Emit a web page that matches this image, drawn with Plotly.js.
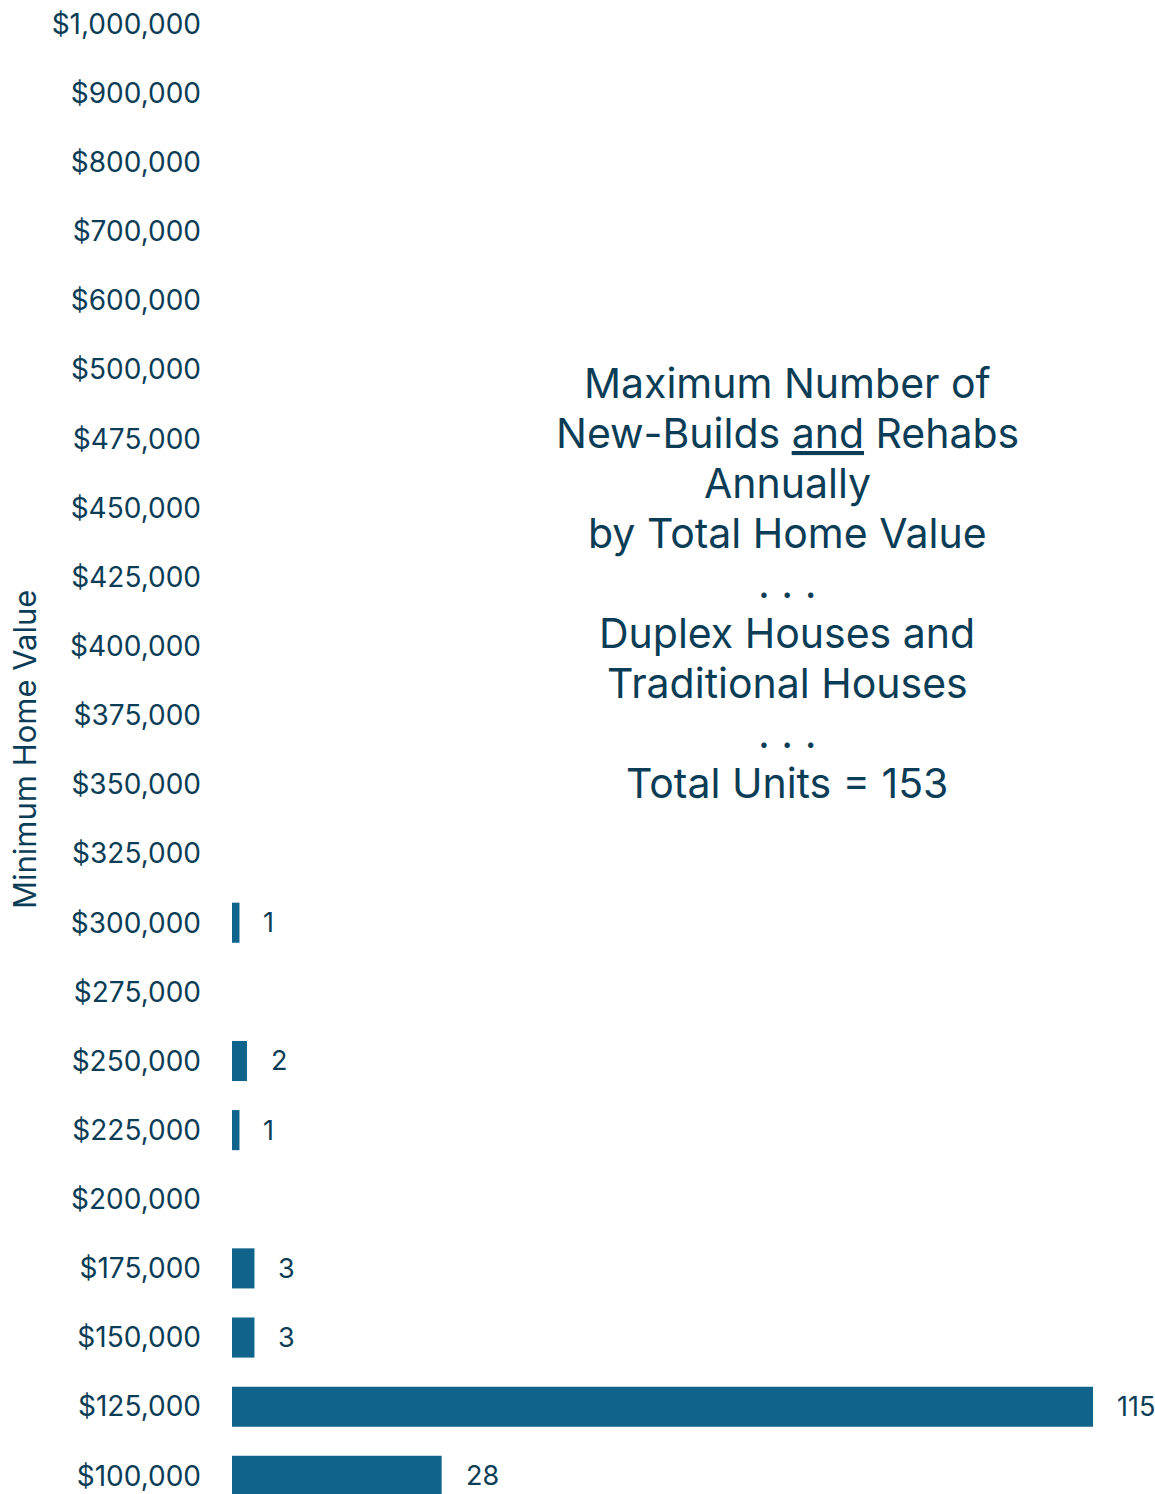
<!DOCTYPE html>
<html>
<head>
<meta charset="utf-8">
<script src="https://cdn.plot.ly/plotly-3.0.1.min.js"></script>
<style>html,body{margin:0;padding:0;background:#fff;}#chart{width:1155px;height:1494px;}</style>
</head>
<body>
<div id="chart"></div>
<script>
const categories = ["$100,000","$125,000","$150,000","$175,000","$200,000","$225,000","$250,000","$275,000","$300,000","$325,000","$350,000","$375,000","$400,000","$425,000","$450,000","$475,000","$500,000","$600,000","$700,000","$800,000","$900,000","$1,000,000"];
const units = [28,115,3,3,0,1,2,0,1,0,0,0,0,0,0,0,0,0,0,0,0,0];
const titleLines = ["Maximum Number of","New-Builds <u>and</u> Rehabs","Annually","by Total Home Value",". . .","Duplex Houses and","Traditional Houses",". . .","Total Units = 153"];
const yTitle = "Minimum Home Value";

const FONT = "Inter, 'Open Sans', sans-serif";
const TXT = "#0b3d56";
const BAR = "#10638a";
const W = 1155, H = 1494, L = 232;
const px = (x) => (x - L) / (W - L);
const py = (y) => 1 - y / H;

const trace = {
  type: "bar",
  orientation: "h",
  y: categories,
  x: units,
  marker: {color: BAR},
  hoverinfo: "skip"
};

const anns = [];
categories.forEach((c, i) => {
  if (units[i] > 0) {
    anns.push({
      x: units[i], y: c, xref: "x", yref: "y",
      text: String(units[i]), showarrow: false,
      xanchor: "left", yanchor: "middle", xshift: 22,
      font: {family: FONT, size: 27, color: TXT}
    });
  }
});

titleLines.forEach((t, i) => {
  anns.push({
    x: px(787), y: py(383 + 50 * i), xref: "paper", yref: "paper",
    text: t, showarrow: false,
    xanchor: "center", yanchor: "middle", align: "center",
    font: {family: FONT, size: 41, color: TXT}
  });
});

anns.push({
  x: px(24), y: py(750), xref: "paper", yref: "paper",
  text: yTitle, showarrow: false, textangle: -90,
  xanchor: "center", yanchor: "middle",
  font: {family: FONT, size: 31, color: TXT}
});

const layout = {
  width: W, height: H,
  margin: {l: L, r: 0, t: 0, b: 0},
  paper_bgcolor: "#fff", plot_bgcolor: "#fff",
  bargap: 0.42,
  showlegend: false,
  xaxis: {visible: false, range: [0, 123.28], fixedrange: true},
  yaxis: {
    type: "category",
    categoryorder: "array", categoryarray: categories,
    range: [-0.263, 21.346],
    showgrid: false, zeroline: false, showline: false,
    ticks: "", ticklabelstandoff: 30,
    tickfont: {family: FONT, size: 28, color: TXT},
    automargin: false
  },
  annotations: anns
};

Plotly.newPlot("chart", [trace], layout, {staticPlot: true, displayModeBar: false});
</script>
</body>
</html>
